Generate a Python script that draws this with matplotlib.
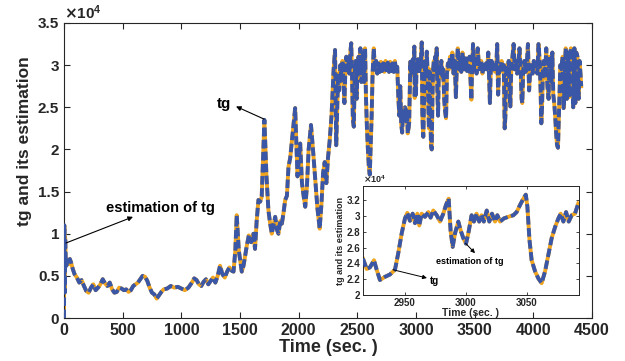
import numpy as np
import matplotlib
matplotlib.use('Agg')
import matplotlib.pyplot as plt
from matplotlib.ticker import FuncFormatter

plt.rcParams['font.family'] = ['Liberation Sans', 'DejaVu Sans']
plt.rcParams['font.weight'] = 'bold'
plt.rcParams['axes.labelweight'] = 'bold'

# values are in units of 1e4
# start-up transient and slow part (0 - 1500 s)
t_a = [0, 3, 6, 10, 15, 20, 30, 40, 50, 60, 75, 90, 110, 130, 150, 170, 190, 210,
       230, 250, 270, 290, 310, 330, 350, 370, 390, 410, 430, 450, 470, 490, 510,
       530, 550, 570, 590, 610, 630, 650, 670, 690, 710, 730, 750, 770, 790, 810,
       830, 850, 880, 910, 940, 970, 1000, 1030, 1060, 1090, 1110, 1130, 1150,
       1170, 1190, 1210, 1230, 1250, 1270, 1290, 1310, 1330, 1350, 1370, 1390,
       1410, 1430, 1445, 1460, 1472]
v_a = [0.0, 1.10, 0.30, 0.95, 0.70, 0.62, 0.68, 0.64, 0.70, 0.66, 0.58, 0.52, 0.48,
       0.42, 0.45, 0.38, 0.32, 0.30, 0.36, 0.40, 0.33, 0.36, 0.40, 0.46, 0.41, 0.38,
       0.42, 0.34, 0.30, 0.31, 0.36, 0.35, 0.33, 0.34, 0.31, 0.33, 0.38, 0.40, 0.42,
       0.46, 0.50, 0.49, 0.44, 0.36, 0.30, 0.28, 0.23, 0.27, 0.31, 0.34, 0.35, 0.38,
       0.36, 0.37, 0.35, 0.33, 0.36, 0.42, 0.47, 0.45, 0.40, 0.38, 0.43, 0.46, 0.40,
       0.44, 0.48, 0.42, 0.50, 0.62, 0.52, 0.48, 0.55, 0.60, 0.56, 0.55, 0.80, 1.22]

# rise (1500 - 2320 s)
t_b = [1490, 1515, 1530, 1557, 1575, 1595, 1614, 1628, 1642, 1657, 1672, 1685, 1708,
       1725, 1742, 1757, 1771, 1785, 1800, 1814, 1828, 1843, 1857, 1871, 1885, 1900,
       1913, 1928, 1942, 1956, 1970, 1990, 2002, 2013, 2028, 2042, 2056, 2070, 2085,
       2105, 2122, 2142, 2160, 2179, 2194, 2208, 2222, 2236, 2250, 2264, 2280, 2298,
       2310]
v_b = [0.80, 0.55, 0.62, 0.85, 0.98, 0.90, 1.00, 0.82, 1.15, 1.40, 1.38, 1.44, 2.35,
       1.70, 1.28, 1.12, 1.00, 1.10, 1.20, 1.05, 1.00, 1.15, 1.12, 1.25, 1.40, 1.45,
       1.79, 1.90, 2.10, 2.30, 2.49, 1.68, 1.90, 2.07, 1.60, 1.45, 1.32, 1.55, 2.00,
       2.29, 2.00, 1.64, 1.30, 1.06, 1.35, 1.72, 1.85, 1.60, 1.90, 2.10, 2.40, 2.95,
       3.18]

# saturated band, first part (2320 - 2910 s)
t_c = [2320, 2328, 2336, 2345, 2355, 2365, 2373, 2382, 2390, 2398, 2406, 2415, 2424,
       2432, 2440, 2448, 2455, 2462, 2470, 2478, 2486, 2494, 2502, 2510, 2518, 2526,
       2534, 2542, 2550, 2558, 2566, 2574, 2582, 2590, 2598, 2606, 2614, 2622, 2630,
       2640, 2650, 2660, 2670, 2680, 2690, 2700, 2710, 2720, 2730, 2740, 2750, 2760,
       2770, 2780, 2790, 2800, 2810, 2820, 2830, 2840, 2850, 2858, 2866, 2874, 2882,
       2890, 2898, 2906]
v_c = [2.05, 2.45, 2.90, 2.70, 3.00, 2.85, 3.05, 2.80, 2.55, 2.95, 3.10, 2.95, 3.05,
       2.90, 3.15, 3.26, 2.85, 2.35, 2.27, 2.90, 3.05, 2.60, 3.00, 3.10, 2.95, 3.20,
       2.80, 3.05, 3.15, 2.80, 3.20, 2.60, 2.25, 2.00, 1.80, 1.70, 2.05, 2.40, 2.90,
       3.20, 2.95, 3.05, 2.90, 3.02, 2.92, 3.04, 2.93, 3.02, 2.92, 3.05, 2.94, 3.03,
       2.92, 3.04, 2.93, 3.02, 2.92, 3.05, 2.93, 2.98, 2.60, 2.40, 2.75, 2.30, 2.20,
       2.45, 2.35, 2.50]

# zoomed window (shown in the inset)
t_z = [2915.6, 2918.6, 2921.3, 2924.6, 2926.8, 2929.5, 2933.6, 2937.7, 2941.8, 2944.5,
       2947.3, 2950.0, 2951.9, 2954.1, 2956.3, 2958.2, 2960.1, 2961.7, 2963.7, 2966.4,
       2969.1, 2971.0, 2973.2, 2976.0, 2978.7, 2981.4, 2983.6, 2985.8, 2987.4, 2989.1,
       2991.0, 2993.7, 2995.6, 2997.8, 3000.0, 3001.9, 3004.6, 3006.5, 3008.7, 3010.8,
       3012.7, 3014.6, 3017.0, 3019.1, 3021.3, 3023.8, 3025.7, 3027.9, 3031.1, 3034.7,
       3038.8, 3041.5, 3044.3, 3047.0, 3049.0, 3050.3, 3052.0, 3053.8, 3056.6, 3059.3,
       3062.0, 3064.8, 3067.5, 3070.2, 3073.0, 3075.7, 3077.6, 3079.8, 3082.0, 3084.2,
       3086.6, 3089.3, 3092.0]
v_z = [2.46, 2.33, 2.35, 2.44, 2.32, 2.19, 2.23, 2.26, 2.32, 2.53, 2.78, 2.97, 3.04,
       2.94, 3.03, 2.91, 3.03, 2.88, 3.03, 2.99, 3.05, 2.98, 3.07, 3.01, 2.93, 3.03,
       3.14, 3.22, 2.81, 2.61, 2.78, 2.93, 2.82, 2.72, 2.65, 2.78, 3.01, 2.93, 3.03,
       2.93, 3.01, 2.93, 3.07, 2.93, 3.03, 2.93, 3.01, 2.93, 2.97, 2.99, 3.01, 3.05,
       3.14, 3.22, 3.27, 3.12, 2.70, 2.44, 2.30, 2.21, 2.15, 2.30, 2.51, 2.72, 2.86,
       2.97, 3.03, 2.93, 3.05, 2.93, 3.01, 3.03, 3.16]

# saturated band, second part (3095 - 4410 s)
t_d = [3098, 3104, 3110, 3116, 3122, 3128, 3134, 3140, 3146, 3152, 3158, 3164, 3170,
       3176, 3182, 3188, 3194, 3200, 3208, 3216, 3224, 3232, 3240, 3248, 3256, 3264,
       3272, 3280, 3290, 3300, 3310, 3320, 3330, 3340, 3348, 3356, 3366, 3376, 3386,
       3396, 3406, 3416, 3426, 3436, 3446, 3456, 3464, 3472, 3478, 3486, 3496, 3506,
       3516, 3526, 3536, 3546, 3556, 3566, 3576, 3586, 3596, 3606, 3616, 3624, 3630,
       3636, 3644, 3654, 3664, 3674, 3684, 3692, 3700, 3710, 3720, 3730, 3740, 3748,
       3756, 3762, 3770, 3780, 3790, 3798, 3804, 3812, 3822, 3832, 3842, 3852, 3862,
       3872, 3882, 3892, 3900, 3906, 3914, 3924, 3934, 3944, 3954, 3964, 3974, 3984,
       3994, 4004, 4014, 4024, 4034, 4044, 4054, 4062, 4068, 4074, 4082, 4090, 4100,
       4110, 4120, 4130, 4138, 4146, 4154, 4162, 4170, 4178, 4186, 4194, 4202, 4210,
       4216, 4222, 4230, 4240, 4250, 4258, 4266, 4276, 4286, 4296, 4304, 4312, 4320,
       4330, 4340, 4350, 4358, 4366, 4376, 4386, 4394, 4402, 4408]
v_d = [2.95, 2.60, 2.25, 2.95, 2.40, 2.05, 2.00, 2.60, 2.95, 3.05, 2.90, 3.10, 2.95,
       3.20, 2.70, 2.40, 2.90, 3.00, 2.90, 3.05, 2.85, 2.95, 2.60, 2.45, 2.37, 2.90,
       3.02, 2.95, 3.10, 2.98, 3.15, 2.90, 3.05, 2.62, 3.00, 3.20, 2.95, 3.05, 2.92,
       3.15, 3.02, 2.95, 3.08, 2.93, 3.00, 3.10, 2.85, 2.59, 2.95, 3.25, 2.95, 3.05,
       2.90, 3.20, 3.00, 2.95, 3.05, 2.90, 3.00, 2.95, 3.02, 2.95, 3.15, 2.80, 2.55,
       2.90, 3.05, 2.95, 3.00, 2.92, 2.98, 3.25, 2.65, 3.00, 2.95, 3.05, 2.92, 3.00,
       2.25, 2.40, 3.00, 2.85, 3.05, 2.70, 2.51, 2.95, 3.10, 3.25, 2.95, 3.05, 2.90,
       3.00, 3.20, 2.95, 2.60, 2.55, 2.95, 3.05, 2.92, 3.00, 3.25, 2.70, 2.95, 3.00,
       2.90, 3.05, 2.95, 3.02, 2.90, 3.25, 3.05, 2.70, 2.31, 2.50, 2.95, 3.05, 2.85,
       3.20, 2.75, 2.60, 3.10, 3.05, 2.80, 3.15, 2.65, 2.55, 2.40, 2.20, 2.05, 2.02,
       2.30, 2.60, 3.00, 2.95, 3.10, 2.49, 2.75, 3.20, 2.60, 3.15, 2.62, 3.05, 3.20,
       2.95, 2.50, 3.20, 2.55, 3.15, 3.10, 2.60, 3.05, 2.90, 2.75]

time = np.array(t_a + t_b + t_c + t_z + t_d, dtype=float)
tg = np.array(v_a + v_b + v_c + v_z + v_d)
tg_est = tg.copy()   # estimate tracks tg, indistinguishable at this scale

orange = '#f0a31c'
blue = '#3a56a6'
axcol = '#262626'
narrow = ['Liberation Sans Narrow', 'Liberation Sans']

fig = plt.figure(figsize=(6.25, 3.61), dpi=100)
ax = fig.add_axes([0.1024, 0.1191, 0.8448, 0.8172])

ax.plot(time, tg, color=orange, lw=2.8, zorder=2)
ax.plot(time, tg_est, color=blue, lw=2.8, dashes=(2.2, 0.9), zorder=3)

ax.set_xlim(0, 4500)
ax.set_ylim(0, 3.5)
ax.set_xticks(np.arange(0, 4501, 500))
ax.set_yticks(np.arange(0, 3.51, 0.5))
ax.yaxis.set_major_formatter(FuncFormatter(lambda v, p: f'{v:g}'))
ax.tick_params(direction='in', top=True, right=True, length=4, width=0.8,
               colors=axcol, labelsize=11.5)
ax.tick_params(axis='y', labelsize=11)
for lab in ax.get_xticklabels() + ax.get_yticklabels():
    lab.set_fontweight('bold')
for s in ax.spines.values():
    s.set_color(axcol)
    s.set_linewidth(0.8)
ax.set_xlabel('Time (sec. )', fontsize=13, color=axcol, fontweight='bold', labelpad=1)
ax.set_ylabel('tg and its estimation', fontsize=12.5, color=axcol, fontweight='bold',
              family=narrow)
ax.yaxis.set_label_coords(-0.06, 0.60)
ax.text(0.0, 1.005, r'$\times\mathregular{10^{4}}$', transform=ax.transAxes,
        fontsize=11, color=axcol, ha='left', va='bottom')

ax.annotate('', xy=(1466, 2.51), xytext=(1705, 2.36),
            arrowprops=dict(arrowstyle='-|>', color='black', lw=0.8,
                            mutation_scale=7, shrinkA=0, shrinkB=0))
ax.text(1364, 2.54, 'tg', fontsize=11, ha='center', va='center', fontweight='bold')
ax.annotate('', xy=(588, 1.20), xytext=(17, 0.89),
            arrowprops=dict(arrowstyle='-|>', color='black', lw=0.8,
                            mutation_scale=7, shrinkA=0, shrinkB=0))
ax.text(818, 1.30, 'estimation of tg', fontsize=10.5, ha='center', va='center',
        fontweight='bold')

# inset
axi = fig.add_axes([0.5808, 0.1828, 0.3456, 0.3019])
axi.plot(t_z, v_z, color=orange, lw=2.8, zorder=2)
axi.plot(t_z, v_z, color=blue, lw=2.8, dashes=(2.2, 0.9), zorder=3)
axi.set_xlim(2915.6, 3092.6)
axi.set_ylim(2.0, 3.38)
axi.set_xticks([2950, 3000, 3050])
axi.set_yticks([2.0, 2.2, 2.4, 2.6, 2.8, 3.0, 3.2])
axi.yaxis.set_major_formatter(FuncFormatter(lambda v, p: f'{v:g}'))
axi.tick_params(direction='in', top=True, right=True, length=2.5, width=0.6,
                colors=axcol, labelsize=7, pad=2)
for lab in axi.get_xticklabels() + axi.get_yticklabels():
    lab.set_fontweight('bold')
for s in axi.spines.values():
    s.set_color(axcol)
    s.set_linewidth(0.7)
axi.set_xlabel('Time (sec. )', fontsize=7.5, color=axcol, fontweight='bold', labelpad=0)
axi.set_ylabel('tg and its estimation', fontsize=6.5, color=axcol, fontweight='bold',
               family=narrow, labelpad=1)
axi.text(0.0, 1.01, r'$\times\mathregular{10^{4}}$', transform=axi.transAxes,
         fontsize=6.5, color=axcol, ha='left', va='bottom')

axi.annotate('', xy=(2968, 2.215), xytext=(2940.2, 2.32),
             arrowprops=dict(arrowstyle='-|>', color='black', lw=0.7,
                             mutation_scale=6, shrinkA=0, shrinkB=0))
axi.text(2974.2, 2.18, 'tg', fontsize=7, ha='center', va='center', fontweight='bold')
axi.annotate('', xy=(3007.4, 2.53), xytext=(2999.7, 2.654),
             arrowprops=dict(arrowstyle='-|>', color='black', lw=0.7,
                             mutation_scale=6, shrinkA=0, shrinkB=0))
axi.text(3003.3, 2.43, 'estimation of tg', fontsize=6.5, ha='center', va='center',
         fontweight='bold')

fig.savefig('out.png', dpi=100)
